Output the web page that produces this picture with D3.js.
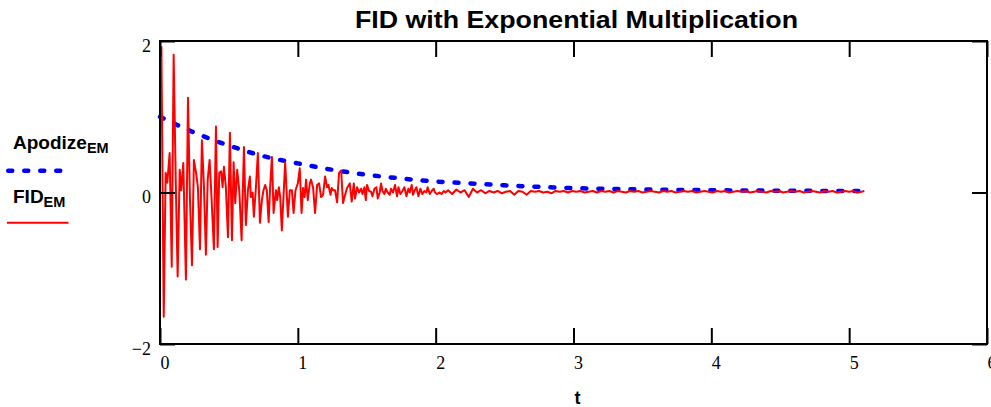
<!DOCTYPE html>
<html><head><meta charset="utf-8">
<script src="https://cdn.jsdelivr.net/npm/d3@7"></script>
<style>body{margin:0;background:#fff;overflow:hidden}</style>
</head><body>
<svg id="c" width="991" height="407"></svg>
<script>
const titleText = "FID with Exponential Multiplication";
const xLabelText = "t";
const xTicks = [0, 1, 2, 3, 4, 5, 6];
const yTicks = [-2, 0, 2];
const seriesNames = [["Apodize", "EM"], ["FID", "EM"]];

const apoT = [0, 0.25, 0.5, 0.75, 1, 1.25, 1.5, 1.75, 2, 2.25, 2.5, 3, 3.5, 4, 4.5, 5, 5.11];
const apoV = [1.0, 0.79, 0.62, 0.48, 0.385, 0.30, 0.235, 0.185, 0.145, 0.12, 0.095, 0.058, 0.04, 0.03, 0.024, 0.019, 0.018];

const fidT = [0.010,0.027,0.041,0.053,0.070,0.085,0.099,0.114,0.128,0.143,0.154,0.169,0.188,0.203,0.217,0.232,0.246,0.261,0.275,0.290,
0.304,0.319,0.333,0.346,0.360,0.372,0.391,0.406,0.418,0.430,0.444,0.454,0.464,0.478,0.493,0.507,0.522,0.534,0.546,0.560,
0.575,0.592,0.609,0.623,0.638,0.652,0.659,0.672,0.681,0.696,0.710,0.725,0.739,0.751,0.763,0.775,0.788,0.799,0.812,0.824,
0.841,0.850,0.862,0.872,0.884,0.908,0.928,0.942,0.957,0.969,0.983,1.000,1.014,1.027,1.038,1.049,1.060,1.072,1.087,1.096,
1.111,1.125,1.140,1.154,1.169,1.183,1.198,1.212,1.222,1.237,1.246,1.256,1.270,1.285,1.299,1.314,1.328,1.343,1.357,1.377,
1.391,1.406,1.415,1.430,1.444,1.459,1.469,1.483,1.493,1.502,1.517,1.531,1.541,1.556,1.570,1.580,1.594,1.604,1.614,1.628,
1.638,1.652,1.667,1.676,1.691,1.705,1.720,1.730,1.744,1.759,1.773,1.788,1.802,1.812,1.826,1.836,1.846,1.860,1.875,1.889,
1.904,1.918,1.933,1.942,1.957,1.971,1.986,1.995,2.009,2.029,2.043,2.058,2.072,
2.09,2.12,2.15,2.18,2.21,2.24,2.27,2.30,2.33,2.36,2.39,2.42,2.45,2.48,2.51,2.54,2.57,2.60,2.63,2.66,
2.69,2.72,2.75,2.78,2.81,2.84,2.87,2.90,2.93,2.96,2.99,3.02,3.05,3.08,3.11,3.14,3.17,3.20,3.23,3.26,
3.29,3.32,3.35,3.38,3.41,3.44,3.47,3.50,3.53,3.56,3.59,3.62,3.65,3.68,3.71,3.74,3.77,3.80,3.83,3.86,
3.89,3.92,3.95,3.98,4.01,4.04,4.07,4.10,4.13,4.16,4.19,4.22,4.25,4.28,4.31,4.34,4.37,4.40,4.43,4.46,
4.49,4.52,4.55,4.58,4.61,4.64,4.67,4.70,4.73,4.76,4.79,4.82,4.85,4.88,4.91,4.94,4.97,5.00,5.03,5.06,
5.09,5.11];
const fidV = [1.93,-1.64,0.26,0.13,0.52,-0.98,1.82,0.17,-1.11,0.30,0.03,0.39,-1.15,1.25,-0.06,-0.96,0.43,0.27,0.07,-0.75,
0.69,0.07,-0.82,0.17,0.43,0.00,-0.75,0.87,-0.72,0.26,0.28,0.07,0.34,0.07,-0.59,0.79,-0.63,0.40,-0.14,0.30,
0.03,-0.63,0.60,-0.43,0.03,0.21,-0.06,0.00,-0.32,0.07,0.52,-0.40,-0.10,0.03,0.10,0.03,-0.39,0.07,0.47,-0.27,
0.03,-0.10,0.07,-0.06,-0.50,0.40,-0.32,0.03,0.03,-0.27,0.03,0.12,0.32,-0.27,0.06,-0.06,0.17,-0.10,0.12,0.17,
0.06,-0.27,0.10,0.12,-0.06,-0.03,0.21,0.07,0.10,-0.03,0.06,0.03,0.03,-0.13,0.26,0.29,-0.14,-0.03,0.06,0.12,
-0.12,0.12,-0.08,0.07,0.00,0.05,-0.02,0.07,-0.10,0.10,0.02,0.01,-0.05,0.05,0.07,-0.08,0.00,0.12,0.02,-0.02,
0.05,0.00,-0.03,0.05,0.00,0.10,-0.05,0.07,-0.02,0.02,0.07,-0.05,0.05,0.00,0.10,-0.03,0.02,0.07,-0.05,0.05,
-0.02,0.02,0.00,0.07,-0.02,0.02,0.05,0.00,-0.02,0.00,-0.02,0.02,0.00,
0.03,-0.02,0.04,0.00,0.03,-0.06,0.05,0.00,0.03,-0.01,0.02,0.00,0.02,-0.01,0.01,0.02,-0.03,0.02,0.01,-0.03,
0.02,0.01,0.02,0.00,0.01,-0.01,0.02,0.01,0.02,0.00,0.02,0.01,0.02,0.00,0.01,0.02,0.00,0.02,0.01,0.02,
0.00,0.02,0.01,0.00,0.02,0.01,0.02,0.00,0.01,0.02,0.01,0.00,0.02,0.01,0.02,0.00,0.01,0.02,0.01,0.02,
0.00,0.01,0.02,0.01,0.00,0.02,0.01,0.02,0.00,0.01,0.02,0.01,0.02,0.00,0.01,0.02,0.01,0.00,0.02,0.01,
0.02,0.00,0.01,0.02,0.01,0.02,0.00,0.01,0.02,0.01,0.00,0.02,0.01,0.02,0.00,0.01,0.02,0.01,0.02,0.00,
0.01,0.02];

const svg = d3.select("#c");
const x = d3.scaleLinear().domain([0, 6]).range([160, 987]);
const y = d3.scaleLinear().domain([-2, 2]).range([344, 41]);

const sans = "'Liberation Sans', Arial, sans-serif";
const serif = "'Liberation Serif', 'Times New Roman', serif";

// Title
svg.append("text").attr("x", 576.5).attr("y", 28).attr("text-anchor", "middle")
  .attr("font-family", sans).attr("font-weight", "bold").attr("font-size", 24)
  .attr("textLength", 443).attr("lengthAdjust", "spacingAndGlyphs")
  .text(titleText);

// Series
const apoData = apoT.map((t, i) => [t, apoV[i]]);
const fidData = fidT.map((t, i) => [t, fidV[i]]);

svg.append("path")
  .attr("d", d3.line().x(d => x(d[0])).y(d => y(d[1])).curve(d3.curveMonotoneX)(apoData))
  .attr("fill", "none").attr("stroke", "#0000ff").attr("stroke-width", 4.5)
  .attr("stroke-dasharray", "4,12").attr("stroke-linecap", "round");

svg.append("path")
  .attr("d", d3.line().x(d => x(d[0])).y(d => y(d[1]))(fidData))
  .attr("fill", "none").attr("stroke", "#ff0000").attr("stroke-width", 2)
  .attr("stroke-linejoin", "round");

// Axes (ticks inward)
const axStyle = g => { g.select(".domain").remove(); g.selectAll(".tick line").attr("stroke", "#000").attr("stroke-width", 2); };

svg.append("g").attr("transform", "translate(0,344)")
  .call(d3.axisBottom(x).tickValues(xTicks).tickSize(-16).tickFormat(d3.format("d")))
  .call(axStyle)
  .call(g => g.selectAll(".tick text").attr("dy", null).attr("y", 25).attr("x", 0)
    .attr("text-anchor", "start").attr("font-family", serif).attr("font-size", 18).attr("fill", "#000"));

svg.append("g").attr("transform", "translate(0,41)")
  .call(d3.axisTop(x).tickValues(xTicks).tickSize(-16).tickFormat(""))
  .call(axStyle);

svg.append("g").attr("transform", "translate(160,0)")
  .call(d3.axisLeft(y).tickValues(yTicks).tickSize(-15).tickPadding(9).tickFormat(d3.format("d")))
  .call(axStyle)
  .call(g => g.selectAll(".tick text").attr("dy", null).attr("y", 10)
    .attr("font-family", serif).attr("font-size", 18).attr("fill", "#000"));

svg.append("g").attr("transform", "translate(987,0)")
  .call(d3.axisRight(y).tickValues(yTicks).tickSize(-15).tickFormat(""))
  .call(axStyle);

// Frame
svg.append("rect").attr("x", 160).attr("y", 41).attr("width", 827).attr("height", 303)
  .attr("fill", "none").attr("stroke", "#000").attr("stroke-width", 2);

// x label
svg.append("text").attr("x", 577.5).attr("y", 404).attr("text-anchor", "middle")
  .attr("font-family", sans).attr("font-weight", "bold").attr("font-size", 18).text(xLabelText);

// Legend
const legY = [148.5, 203.3];
seriesNames.forEach((nm, i) => {
  const t = svg.append("text").attr("x", 13).attr("y", legY[i])
    .attr("font-family", sans).attr("font-weight", "bold").attr("font-size", 19);
  t.append("tspan").text(nm[0]);
  t.append("tspan").attr("font-size", 14.5).attr("dy", 4).text(nm[1]);
});
svg.append("line").attr("x1", 8.25).attr("x2", 63).attr("y1", 170.7).attr("y2", 170.7)
  .attr("stroke", "#0000ff").attr("stroke-width", 4.5).attr("stroke-dasharray", "4,12").attr("stroke-linecap", "round");
svg.append("line").attr("x1", 7).attr("x2", 68.5).attr("y1", 222.7).attr("y2", 222.7)
  .attr("stroke", "#ff0000").attr("stroke-width", 2);
</script>
</body></html>
